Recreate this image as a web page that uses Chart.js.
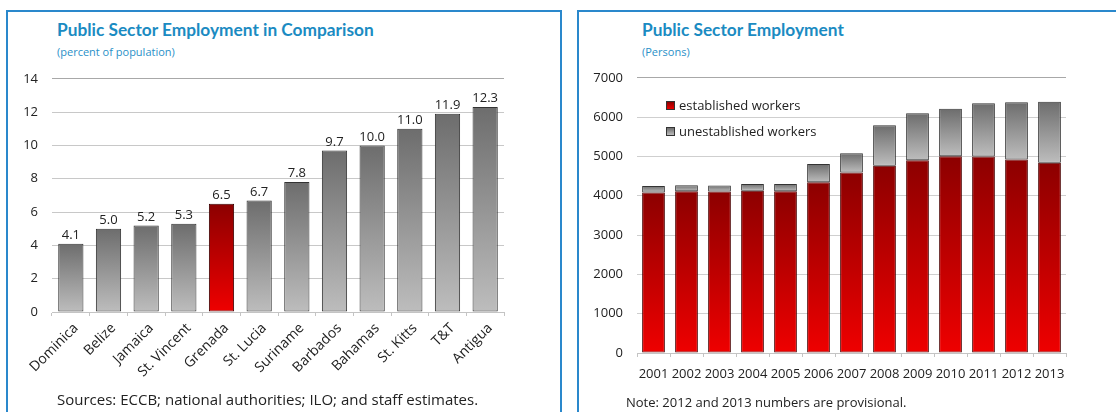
<!DOCTYPE html>
<html>
<head>
<meta charset="utf-8">
<script src="https://cdn.jsdelivr.net/npm/chart.js@4.4.1/dist/chart.umd.min.js"></script>
<style>
  body { margin: 0; width: 1116px; height: 412px; background: #fff; overflow: hidden; position: relative; font-family: "Open Sans", sans-serif; color: #222; }
  .panel { position: absolute; top: 10px; height: 420px; border: 2px solid #2a88cc; border-bottom: none; }
  #panelLeft { left: 6px; width: 552px; }
  #panelRight { left: 577px; width: 600px; border-right: none; }
  .title { position: absolute; font-family: Lato, sans-serif; font-weight: bold; font-size: 17.3px; color: #1b8bc2; white-space: nowrap; }
  .sub { position: absolute; font-size: 11px; color: #2a90c8; white-space: nowrap; }
  .note { position: absolute; color: #222; white-space: nowrap; }
  canvas { position: absolute; }
  #legend { position: absolute; left: 666px; top: 92px; font-size: 13px; }
  #legend div { height: 26px; display: flex; align-items: center; }
  #legend span.box { width: 9px; height: 9px; border: 1px solid #333; margin-right: 4px; box-sizing: border-box; }
</style>
</head>
<body>
<div class="panel" id="panelLeft"></div>
<div class="panel" id="panelRight"></div>

<div class="title" style="left:57px; top:19px;">Public Sector Employment in Comparison</div>
<div class="sub" style="left:57px; top:44px;">(percent of population)</div>
<div class="title" style="left:642px; top:19px;">Public Sector Employment</div>
<div class="sub" style="left:642px; top:44px;">(Persons)</div>

<canvas id="shareChart" width="552" height="339" style="left:8px; top:57px;"></canvas>
<canvas id="workersChart" width="536" height="340" style="left:580px; top:56px;"></canvas>
<div id="legend"></div>

<div class="note" style="left:57px; top:389px; font-size:15px;">Sources: ECCB; national authorities; ILO; and staff estimates.</div>
<div class="note" style="left:626px; top:393px; font-size:13px;">Note: 2012 and 2013 numbers are provisional.</div>

<script>
// public sector employment, percent of population
const countries = ['Dominica', 'Belize', 'Jamaica', 'St. Vincent', 'Grenada', 'St. Lucia',
                   'Suriname', 'Barbados', 'Bahamas', 'St. Kitts', 'T&T', 'Antigua'];
const employmentShare = [4.1, 5.0, 5.2, 5.3, 6.5, 6.7, 7.8, 9.7, 10.0, 11.0, 11.9, 12.3];
const highlighted = 'Grenada';
const shareTicks = [0, 2, 4, 6, 8, 10, 12, 14];

// persons employed in the public sector
const years = ['2001', '2002', '2003', '2004', '2005', '2006', '2007',
               '2008', '2009', '2010', '2011', '2012', '2013'];
const established = [4080, 4115, 4105, 4130, 4115, 4345, 4590, 4765, 4905, 5005, 5000, 4920, 4840];
const unestablished = [170, 155, 155, 170, 185, 465, 490, 1030, 1195, 1205, 1355, 1460, 1550];
const seriesNames = ['established workers', 'unestablished workers'];
const personTicks = [0, 1000, 2000, 3000, 4000, 5000, 6000, 7000];

const GRAY = ['#6d6d6d', '#bdbdbd'];
const RED = ['#8c0000', '#ef0000'];

Chart.defaults.font.family = '"Open Sans", sans-serif';
Chart.defaults.color = '#222';
Chart.defaults.animation = false;

// vertical gradient running from the top of each bar segment down to its base
function shade(pick) {
  return (context) => {
    const { chart, dataIndex, datasetIndex } = context;
    const colors = pick(dataIndex);
    const y = chart.scales.y;
    if (!y || !chart.chartArea) return colors[1];
    let base = 0;
    for (let d = 0; d < datasetIndex; d++) base += chart.data.datasets[d].data[dataIndex];
    const top = base + chart.data.datasets[datasetIndex].data[dataIndex];
    const g = chart.ctx.createLinearGradient(0, y.getPixelForValue(top), 0, y.getPixelForValue(base));
    g.addColorStop(0, colors[0]);
    g.addColorStop(1, colors[1]);
    return g;
  };
}

const valueLabels = {
  id: 'valueLabels',
  afterDatasetsDraw(chart) {
    const ctx = chart.ctx;
    const meta = chart.getDatasetMeta(0);
    ctx.save();
    ctx.font = '13px "Open Sans", sans-serif';
    ctx.fillStyle = '#222';
    ctx.textAlign = 'center';
    ctx.textBaseline = 'bottom';
    meta.data.forEach((bar, i) => {
      ctx.fillText(employmentShare[i].toFixed(1), bar.x, bar.y - 2);
    });
    ctx.restore();
  }
};

function fixedWidth(w) { return (scale) => { scale.width = w; }; }
function fixedHeight(h) { return (scale) => { scale.height = h; }; }

new Chart(document.getElementById('shareChart'), {
  type: 'bar',
  data: {
    labels: countries,
    datasets: [{
      data: employmentShare,
      backgroundColor: shade(i => countries[i] === highlighted ? RED : GRAY),
      borderColor: countries.map(c => c === highlighted ? '#3a0000' : '#333333'),
      borderWidth: 1,
      borderSkipped: false,
      categoryPercentage: 1,
      barPercentage: 0.67
    }]
  },
  options: {
    responsive: false,
    layout: { padding: { left: 0, right: 56, top: 0, bottom: 0 } },
    plugins: { legend: { display: false }, tooltip: { enabled: false } },
    scales: {
      x: {
        afterFit: fixedHeight(84),
        grid: { drawOnChartArea: false, tickLength: 4, color: '#c4c4c4' },
        border: { color: '#c4c4c4' },
        ticks: { font: { size: 14 }, minRotation: 45, maxRotation: 45, padding: 4, labelOffset: 5 }
      },
      y: {
        min: 0, max: 14,
        afterFit: fixedWidth(44),
        afterBuildTicks: (scale) => { scale.ticks = shareTicks.map(v => ({ value: v })); },
        grid: { drawTicks: false, color: (c) => c.tick.value === 14 ? '#a8a8a8' : '#c8c8c8' },
        border: { display: false },
        ticks: { font: { size: 13 }, padding: 14, callback: (v) => String(v) }
      }
    }
  },
  plugins: [valueLabels]
});

new Chart(document.getElementById('workersChart'), {
  type: 'bar',
  data: {
    labels: years,
    datasets: [
      {
        label: seriesNames[0],
        data: established,
        backgroundColor: shade(() => RED),
        borderColor: '#4a0000',
        borderWidth: 1,
        borderSkipped: false,
        categoryPercentage: 1,
        barPercentage: 0.69
      },
      {
        label: seriesNames[1],
        data: unestablished,
        backgroundColor: shade(() => GRAY),
        borderColor: '#333333',
        borderWidth: 1,
        borderSkipped: false,
        categoryPercentage: 1,
        barPercentage: 0.69
      }
    ]
  },
  options: {
    responsive: false,
    layout: { padding: { left: 0, right: 50, top: 0, bottom: 0 } },
    plugins: { legend: { display: false }, tooltip: { enabled: false } },
    scales: {
      x: {
        stacked: true,
        afterFit: fixedHeight(43),
        grid: { drawOnChartArea: false, tickLength: 4, color: '#c4c4c4' },
        border: { color: '#c4c4c4' },
        ticks: { font: { size: 13 }, maxRotation: 0, padding: 9 }
      },
      y: {
        stacked: true,
        min: 0, max: 7000,
        afterFit: fixedWidth(57),
        afterBuildTicks: (scale) => { scale.ticks = personTicks.map(v => ({ value: v })); },
        grid: { drawTicks: false, color: (c) => c.tick.value === 7000 ? '#a8a8a8' : '#cfcfcf' },
        border: { display: false },
        ticks: { font: { size: 13 }, padding: 14, callback: (v) => String(v) }
      }
    }
  }
});

// legend for the stacked chart
const legend = document.getElementById('legend');
[RED, GRAY].forEach((colors, i) => {
  const row = document.createElement('div');
  const box = document.createElement('span');
  box.className = 'box';
  box.style.background = `linear-gradient(${colors[0]}, ${colors[1]})`;
  row.appendChild(box);
  row.appendChild(document.createTextNode(seriesNames[i]));
  legend.appendChild(row);
});
</script>
</body>
</html>
